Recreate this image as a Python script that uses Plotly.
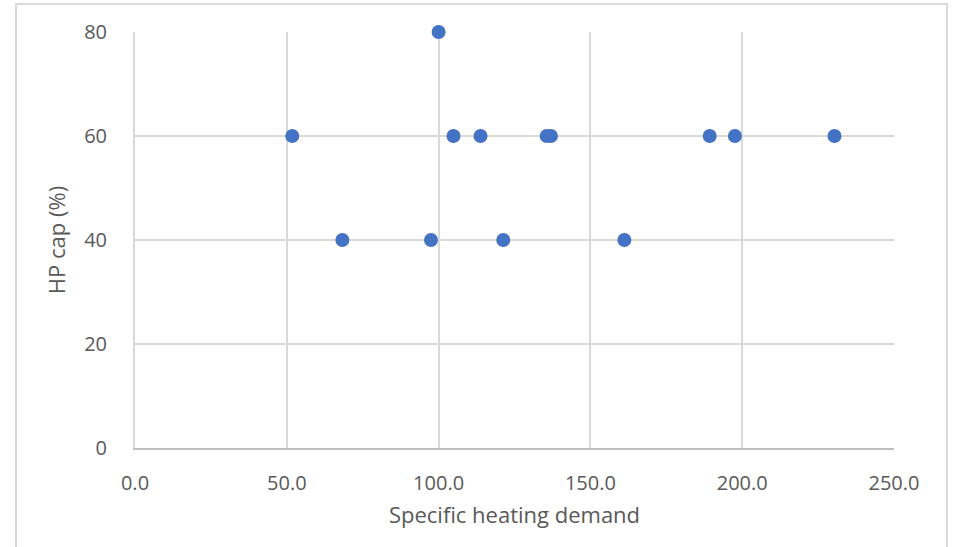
import plotly.graph_objects as go

demand = [51.8, 68.3, 97.5, 100.0, 104.9, 113.8, 121.3, 135.6, 137.0, 161.2, 189.3, 197.6, 230.4]
hp_cap = [60, 40, 40, 80, 60, 60, 40, 60, 60, 40, 60, 60, 60]

x_ticks = [0, 50, 100, 150, 200, 250]
x_tick_labels = ["0.0", "50.0", "100.0", "150.0", "200.0", "250.0"]
y_ticks = [0, 20, 40, 60, 80]

L, R, T, B = 135, 59, 32, 99
W, H = 953, 547
pw, ph = W - L - R, H - T - B

fig = go.Figure()
fig.add_trace(go.Scatter(
    x=demand, y=hp_cap, mode="markers",
    marker=dict(size=14, color="#4472C4"),
    cliponaxis=False,
    showlegend=False,
))

fam = "Open Sans, Liberation Sans, sans-serif"
tick_font = dict(family=fam, size=20, color="#595959")
title_font = dict(family=fam, size=22, color="#595959")
fig.update_layout(
    width=W, height=H,
    margin=dict(l=L, r=R, t=T, b=B),
    paper_bgcolor="white", plot_bgcolor="white",
    font=tick_font,
    xaxis=dict(
        range=[0, 250], tickvals=x_ticks, ticktext=x_tick_labels,
        showgrid=True, gridcolor="#d9d9d9", gridwidth=2,
        zeroline=False, showline=True, linecolor="#bfbfbf", linewidth=2,
        ticks="", ticklabelstandoff=16,
        title=dict(text="Specific heating demand", font=title_font, standoff=13),
        tickfont=tick_font,
    ),
    yaxis=dict(
        range=[0, 80], tickvals=y_ticks,
        showgrid=True, gridcolor="#d9d9d9", gridwidth=2,
        zeroline=False, showline=True, linecolor="#d9d9d9", linewidth=2,
        ticks="", ticklabelstandoff=22,
        title=dict(text="HP cap (%)", font=title_font, standoff=12),
        tickfont=tick_font,
    ),
    shapes=[dict(
        type="rect", xref="paper", yref="paper",
        x0=(16 - L) / pw, x1=(947 - L) / pw,
        y0=(H - B - 600) / ph, y1=(H - B - 4) / ph,
        line=dict(color="#d9d9d9", width=2), layer="below",
    )],
)

fig.write_html("out.html")
